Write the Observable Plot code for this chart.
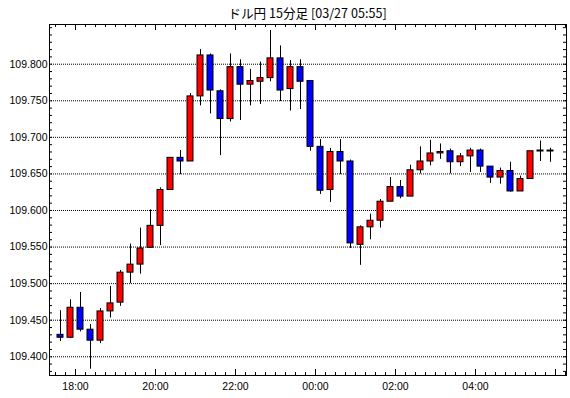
<!DOCTYPE html>
<html><head><meta charset="utf-8">
<script src="https://cdn.jsdelivr.net/npm/d3@7"></script>
<script src="https://cdn.jsdelivr.net/npm/@observablehq/plot@0.6"></script>
<style>
body{margin:0;background:#fff;}
#title{height:23px;width:570px;box-sizing:border-box;padding-left:49px;padding-right:4px;text-align:center;font-family:"Noto Sans CJK JP";font-size:12.6px;line-height:25px;color:#000;white-space:pre;}
</style></head><body>
<div id="title">ドル円 15分足 [03/27 05:55]</div>
<div id="chart"></div>
<script>
const times = ["17:30","17:45","18:00","18:15","18:30","18:45","19:00","19:15","19:30","19:45",
  "20:00","20:15","20:30","20:45","21:00","21:15","21:30","21:45","22:00","22:15",
  "22:30","22:45","23:00","23:15","23:30","23:45","00:00","00:15","00:30","00:45",
  "01:00","01:15","01:30","01:45","02:00","02:15","02:30","02:45","03:00","03:15",
  "03:30","03:45","04:00","04:15","04:30","04:45","05:00","05:15","05:30","05:45"];
const open = [109.430,109.426,109.467,109.437,109.422,109.462,109.474,109.515,109.526,109.549,
  109.579,109.628,109.672,109.667,109.756,109.812,109.763,109.725,109.796,109.772,
  109.776,109.781,109.808,109.766,109.796,109.777,109.687,109.628,109.680,109.667,
  109.553,109.577,109.586,109.612,109.632,109.619,109.655,109.667,109.678,109.681,
  109.666,109.674,109.682,109.660,109.645,109.654,109.626,109.643,109.682,109.682];
const high = [109.463,109.478,109.488,109.444,109.466,109.496,109.518,109.554,109.576,109.601,
  109.631,109.672,109.682,109.760,109.820,109.814,109.765,109.814,109.806,109.793,
  109.803,109.846,109.825,109.805,109.806,109.777,109.697,109.685,109.697,109.669,
  109.579,109.595,109.615,109.645,109.641,109.662,109.687,109.696,109.691,109.684,
  109.678,109.685,109.684,109.660,109.658,109.666,109.647,109.681,109.695,109.685];
const low = [109.421,109.425,109.434,109.383,109.418,109.453,109.469,109.500,109.513,109.548,
  109.552,109.628,109.649,109.667,109.743,109.732,109.675,109.721,109.723,109.743,
  109.745,109.776,109.749,109.736,109.738,109.681,109.622,109.611,109.649,109.548,
  109.525,109.560,109.576,109.612,109.616,109.619,109.650,109.661,109.670,109.650,
  109.660,109.652,109.652,109.637,109.636,109.625,109.626,109.643,109.667,109.666];
const close = [109.426,109.467,109.437,109.422,109.462,109.473,109.515,109.526,109.548,109.579,
  109.628,109.672,109.667,109.756,109.812,109.764,109.725,109.796,109.772,109.777,
  109.781,109.808,109.764,109.796,109.776,109.687,109.627,109.680,109.667,109.555,
  109.577,109.586,109.612,109.632,109.619,109.655,109.667,109.678,109.680,109.666,
  109.674,109.682,109.660,109.645,109.654,109.626,109.643,109.681,109.682,109.682];
const yTickValues = [109.400,109.450,109.500,109.550,109.600,109.650,109.700,109.750,109.800];
const xTickLabels = ["18:00","20:00","22:00","00:00","02:00","04:00"];

// convert HH:MM labels to dates with day rollover
function toDates(labels, startDay) {
  let day = startDay, prev = -1;
  return labels.map(s => {
    const [h, m] = s.split(":").map(Number);
    const mins = h * 60 + m;
    if (prev >= 0 && mins < prev) day++;
    prev = mins;
    return new Date(Date.UTC(2019, 2, day, h, m));
  });
}
const MIN = 60000;
const starts = toDates(times, 26);
const data = starts.map((t, i) => ({
  t: new Date(+t + 7.5 * MIN),
  open: open[i], high: high[i], low: low[i], close: close[i]
}));
const xTickDates = toDates(xTickLabels, 26);

const xDomain = [new Date(Date.UTC(2019, 2, 26, 17, 21)), new Date(Date.UTC(2019, 2, 27, 6, 16, 30))];
const yDomain = [109.3744, 109.8543];
const W = 570, H = 375, mT = 1, mB = 23, mL = 49, mR = 4;
const minPerPx = (xDomain[1] - xDomain[0]) / MIN / (W - mL - mR);
const valPerPx = (yDomain[1] - yDomain[0]) / (H - mT - mB);
const half = 3 * minPerPx * MIN;

const bodies = data.filter(d => d.open !== d.close);
const dojis = data.filter(d => d.open === d.close);

const xMinor = d3.utcMinute.every(15).range(xDomain[0], xDomain[1]);
const xMajor = xMinor.filter(d => d.getUTCMinutes() === 0 && d.getUTCHours() % 2 === 0);
const yMinor = d3.range(0, 48).map(i => +(109.38 + i * 0.01).toFixed(2)).filter(v => v > yDomain[0] && v < yDomain[1]);

const tl = 3, tlM = 6;
const chart = Plot.plot({
  width: W, height: H,
  marginTop: mT, marginBottom: mB, marginLeft: mL, marginRight: mR,
  style: {fontFamily: "Liberation Sans", fontSize: "10.5px", color: "#000", background: "#fff"},
  x: {type: "utc", domain: xDomain},
  y: {domain: yDomain},
  marks: [
    Plot.ruleY(yTickValues, {stroke: "#000", strokeDasharray: "1,1"}),
    // y minor ticks both sides
    Plot.ruleY(yMinor, {x1: () => xDomain[0], x2: () => new Date(+xDomain[0] + tl * minPerPx * MIN), stroke: "#000"}),
    Plot.ruleY(yMinor, {x1: () => new Date(+xDomain[1] - tl * minPerPx * MIN), x2: () => xDomain[1], stroke: "#000"}),
    // x ticks top and bottom
    Plot.ruleX(xMinor, {y1: () => yDomain[0], y2: d => yDomain[0] + (xMajor.some(m => +m === +d) ? tlM : tl) * valPerPx, stroke: "#000"}),
    Plot.ruleX(xMinor, {y1: d => yDomain[1] - (xMajor.some(m => +m === +d) ? tlM : tl) * valPerPx, y2: () => yDomain[1], stroke: "#000"}),
    // wicks
    Plot.ruleX(data, {x: "t", y1: "low", y2: "high", stroke: "#000", strokeWidth: 1}),
    // bodies
    Plot.rect(bodies, {
      x1: d => new Date(+d.t - half), x2: d => new Date(+d.t + half),
      y1: "open", y2: "close",
      fill: d => d.close > d.open ? "#ff0000" : "#0000ff",
      stroke: "#000", strokeWidth: 1
    }),
    Plot.ruleY(dojis, {y: "close", x1: d => new Date(+d.t - half - minPerPx * MIN / 2), x2: d => new Date(+d.t + half + minPerPx * MIN / 2), stroke: "#000", strokeWidth: 2}),
    Plot.frame({stroke: "#000"}),
    Plot.axisY({ticks: yTickValues, tickFormat: d => d.toFixed(3), tickSize: 0, tickPadding: 2, label: null}),
    Plot.axisX({ticks: xTickDates, tickFormat: d3.utcFormat("%H:%M"), tickSize: 0, tickPadding: 7, label: null})
  ]
});
document.getElementById("chart").appendChild(chart);
</script>
</body></html>
